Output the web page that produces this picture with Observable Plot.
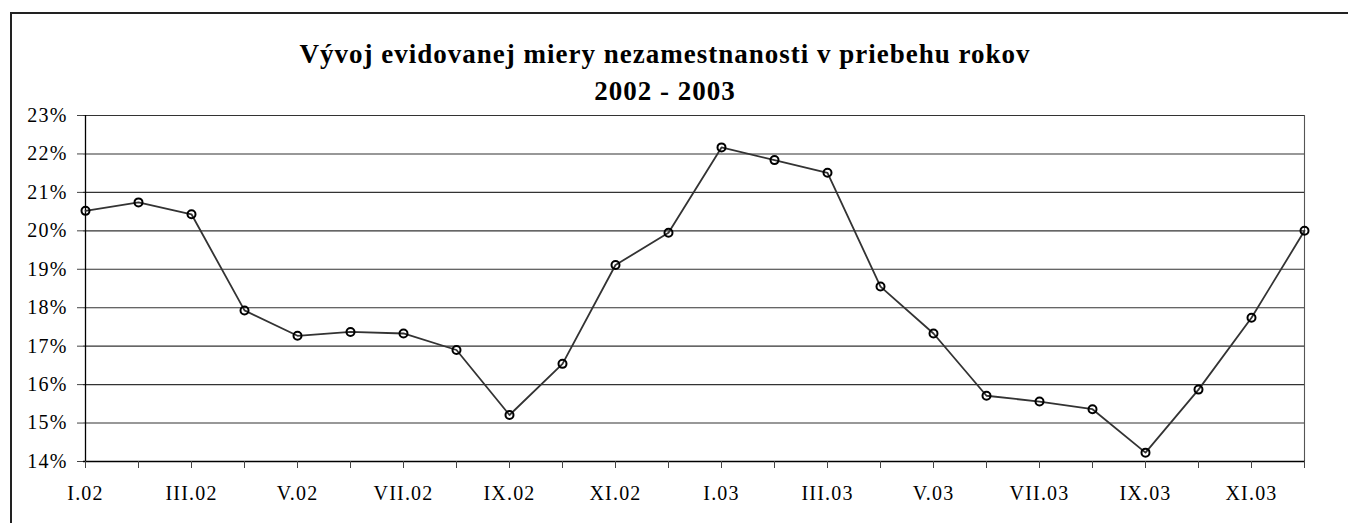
<!DOCTYPE html>
<html>
<head>
<meta charset="utf-8">
<script src="https://cdn.jsdelivr.net/npm/d3@7"></script>
<script src="https://cdn.jsdelivr.net/npm/@observablehq/plot@0.6"></script>
<style>
  html, body { margin: 0; padding: 0; background: #fff; overflow: hidden; width: 1348px; height: 523px; }
  #frame { position: absolute; left: 10px; top: 12px; width: 1400px; height: 600px; border: 2px solid #222; box-sizing: border-box; }
  #title { position: absolute; left: 0; top: 36px; width: 1330px; text-align: center;
           font-family: "Liberation Serif", "Times New Roman", serif; font-weight: bold; font-size: 27px;
           line-height: 37px; letter-spacing: 1px; color: #000; }
  #chart { position: absolute; left: 0; top: 0; }
</style>
</head>
<body>
<div id="frame"></div>
<div id="title">Vývoj evidovanej miery nezamestnanosti v priebehu rokov<br>2002 - 2003</div>
<div id="chart"></div>
<script>
const months = ["I.02","II.02","III.02","IV.02","V.02","VI.02","VII.02","VIII.02","IX.02","X.02","XI.02","XII.02",
                "I.03","II.03","III.03","IV.03","V.03","VI.03","VII.03","VIII.03","IX.03","X.03","XI.03","XII.03"];
const rates = [20.52,20.74,20.43,17.93,17.27,17.37,17.33,16.90,15.21,16.54,19.11,19.95,
               22.17,21.84,21.51,18.55,17.33,15.71,15.56,15.36,14.23,15.87,17.74,20.00];
const yTicks = [14,15,16,17,18,19,20,21,22,23];

const data = months.map((m, i) => ({month: m, rate: rates[i]}));

const chart = Plot.plot({
  width: 1348,
  height: 523,
  marginLeft: 83,
  marginRight: 43,
  marginTop: 115,
  marginBottom: 62,
  style: { background: "transparent", fontFamily: "'Liberation Serif', 'Times New Roman', serif", fontSize: "20px", color: "#000", letterSpacing: "1.2px" },
  x: { type: "point", domain: months, padding: 0 },
  y: { type: "linear", domain: [14, 23] },
  marks: [
    Plot.ruleY(yTicks, { stroke: "#333", strokeWidth: 1.1 }),
    Plot.ruleX([months[0]], { stroke: "#000", strokeWidth: 1.3 }),
    Plot.ruleX([months[months.length - 1]], { stroke: "#555", strokeWidth: 1.1 }),
    Plot.ruleY([14], { stroke: "#000", strokeWidth: 1.3 }),
    Plot.axisY({ ticks: yTicks, tickFormat: d => d + "%", tickSize: 6, tickPadding: 10, label: null, stroke: "#444" }),
    Plot.axisX({ ticks: months, tickFormat: d => months.indexOf(d) % 2 === 0 ? d : "", tickSize: 7, tickPadding: 17, label: null, stroke: "#444" }),
    Plot.line(data, { x: "month", y: "rate", stroke: "#333", strokeWidth: 1.8 }),
    Plot.dot(data, { x: "month", y: "rate", r: 4, stroke: "#000", strokeWidth: 2, fill: "none" })
  ]
});
document.getElementById("chart").appendChild(chart);
</script>
</body>
</html>
